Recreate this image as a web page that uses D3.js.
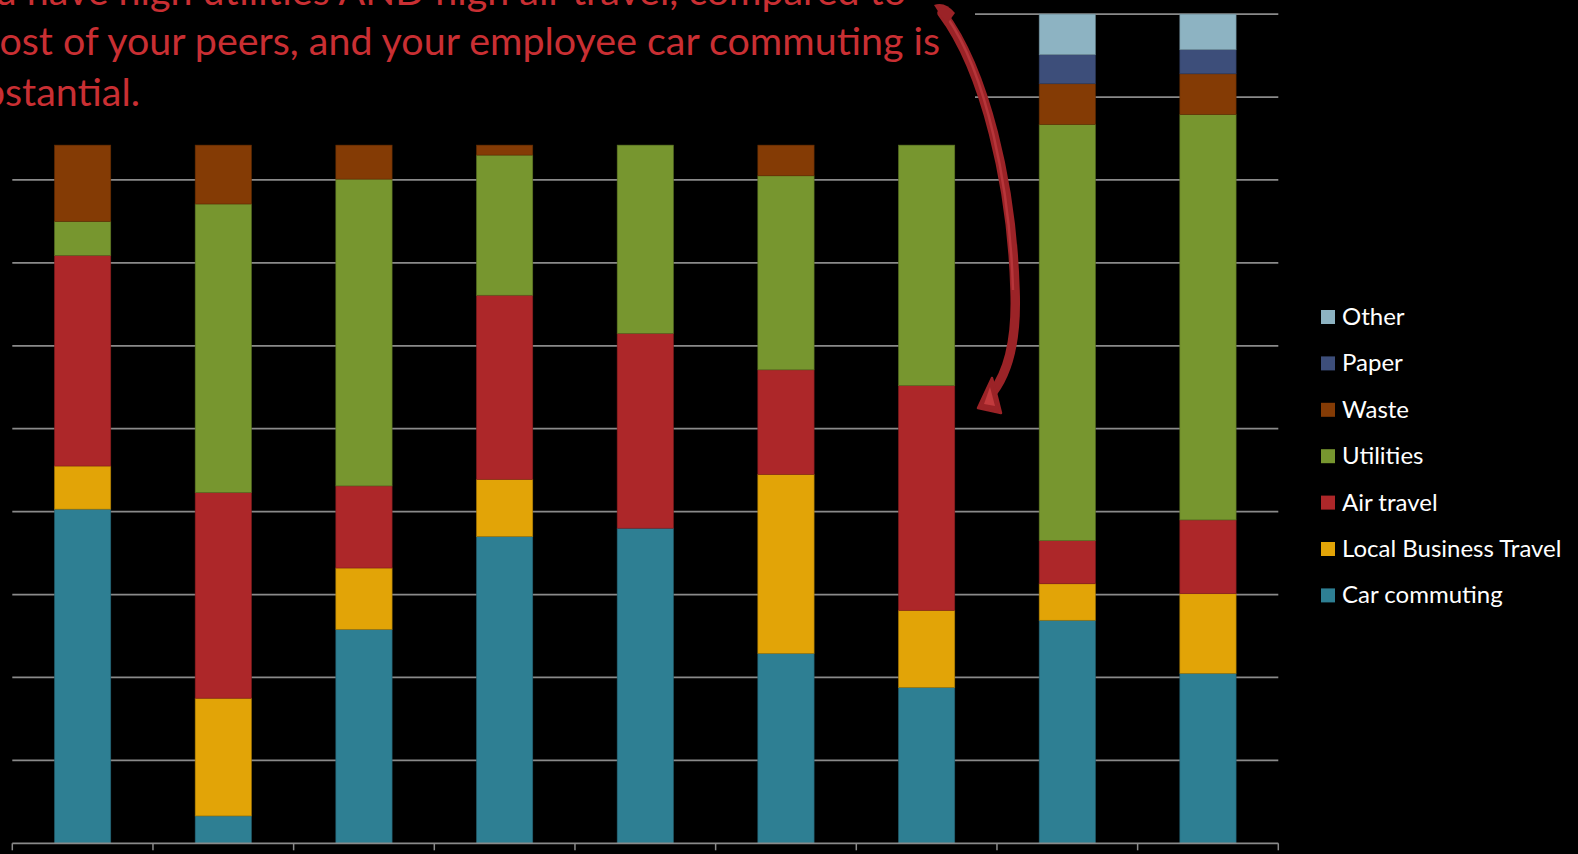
<!DOCTYPE html>
<html>
<head>
<meta charset="utf-8">
<script src="https://cdn.jsdelivr.net/npm/d3@7/dist/d3.min.js"></script>
<style>
  html, body { margin: 0; padding: 0; background: #000; overflow: hidden; }
  svg { display: block; }
</style>
</head>
<body>
<svg id="chart" width="1578" height="854"></svg>
<script>
// ---------------- DATA ----------------
const categories = ["Peer 1", "Peer 2", "Peer 3", "Peer 4", "Peer 5", "Peer 6", "Peer 7", "You (A)", "You (B)"];
const seriesNames = ["Car commuting", "Local Business Travel", "Air travel", "Utilities", "Waste", "Paper", "Other"];
const carCommuting        = [40.3,  3.3, 25.8, 37.0, 38.0, 22.9, 18.8, 26.9, 20.5];
const localBusinessTravel = [ 5.2, 14.2,  7.4,  6.9,  0.0, 21.6,  9.3,  4.4,  9.6];
const airTravel           = [25.4, 24.8,  9.9, 22.2, 23.5, 12.6, 27.1,  5.2,  8.9];
const utilities           = [ 4.1, 34.8, 37.0, 16.9, 22.7, 23.4, 29.0, 50.2, 48.9];
const waste               = [ 9.2,  7.1,  4.1,  1.2,  0.0,  3.7,  0.0,  4.9,  4.9];
const paper               = [ 0.0,  0.0,  0.0,  0.0,  0.0,  0.0,  0.0,  3.5,  2.9];
const other               = [ 0.0,  0.0,  0.0,  0.0,  0.0,  0.0,  0.0,  4.9,  4.3];
const yTickValues = [0, 10, 20, 30, 40, 50, 60, 70, 80, 90, 100];
const titleLines = [
  "You have high utilities AND high air travel, compared to",
  "most of your peers, and your employee car commuting is",
  "substantial."
];
const seriesColors = ["#2e7f93", "#e2a407", "#ad2729", "#77962f", "#843b05", "#3d4e7a", "#8db3c2"];

// ---------------- SETUP ----------------
const svg = d3.select("#chart");
const FONT = "Lato, 'Open Sans', 'DejaVu Sans', sans-serif";

const plotLeft = 12.3, plotRight = 1278.3, plotTop = 14.1, plotBottom = 843.3;

const x = d3.scaleBand().domain(categories).range([plotLeft, plotRight])
  .paddingInner(0.6).paddingOuter(0.3);
const y = d3.scaleLinear().domain([0, 100]).range([plotBottom, plotTop]);

const seriesArrays = [carCommuting, localBusinessTravel, airTravel, utilities, waste, paper, other];
const rows = categories.map((c, i) => {
  const r = { category: c };
  seriesNames.forEach((s, j) => r[s] = seriesArrays[j][i]);
  return r;
});
const stacked = d3.stack().keys(seriesNames)(rows);
const color = d3.scaleOrdinal().domain(seriesNames).range(seriesColors);

// gridlines
svg.append("g").selectAll("line")
  .data(yTickValues.filter(v => v > 0))
  .join("line")
  .attr("x1", plotLeft).attr("x2", plotRight)
  .attr("y1", d => y(d)).attr("y2", d => y(d))
  .attr("stroke", "#8a8a8a").attr("stroke-width", 1.75);

// title box (opaque) covering upper gridlines
svg.append("rect").attr("x", 0).attr("y", 0).attr("width", 975).attr("height", 140).attr("fill", "#000");

// bars
svg.append("g").selectAll("g")
  .data(stacked)
  .join("g")
  .attr("fill", d => color(d.key))
  .attr("stroke", d => d3.color(color(d.key)).darker(0.8))
  .attr("stroke-width", 0.6)
  .selectAll("rect")
  .data(d => d.filter(p => p[1] - p[0] > 0))
  .join("rect")
  .attr("x", d => x(d.data.category))
  .attr("width", x.bandwidth())
  .attr("y", d => y(d[1]))
  .attr("height", d => y(d[0]) - y(d[1]));

// x axis: line + ticks at category boundaries
const axisG = svg.append("g");
axisG.append("line")
  .attr("x1", plotLeft).attr("x2", plotRight)
  .attr("y1", y(0)).attr("y2", y(0))
  .attr("stroke", "#8a8a8a").attr("stroke-width", 1.75);
const boundaries = categories.map(c => x(c) - x.step() * x.paddingOuter());
boundaries.push(plotRight);
axisG.selectAll("line.tick")
  .data(boundaries)
  .join("line").attr("class", "tick")
  .attr("x1", d => d).attr("x2", d => d)
  .attr("y1", y(0)).attr("y2", y(0) + 7)
  .attr("stroke", "#8a8a8a").attr("stroke-width", 1.5);

// title text, sized so the visible line matches the reference width
const titleColor = "#c92f33";
const probe = svg.append("text").attr("font-family", FONT).attr("font-size", 42)
  .text("ost of your peers, and your employee car commuting is");
const probeW = probe.node().getComputedTextLength();
probe.remove();
const titleSize = 42 * 941 / probeW;
const titleEnds = [906, 940, 140];
const titleBaselines = [5, 55, 106];
svg.append("g").selectAll("text")
  .data(titleLines)
  .join("text")
  .attr("x", (d, i) => titleEnds[i])
  .attr("y", (d, i) => titleBaselines[i])
  .attr("text-anchor", "end")
  .attr("font-family", FONT)
  .attr("font-size", titleSize)
  .attr("fill", titleColor)
  .text(d => d);

// curved arrow
const arrow = svg.append("g");
arrow.append("path")
  .attr("d", "M 942 13 C 985 70, 1012 185, 1015 290 C 1017 340, 1008 372, 993 392")
  .attr("fill", "none").attr("stroke", "#9b2327").attr("stroke-width", 9.5).attr("stroke-linecap", "round");
arrow.append("path")
  .attr("d", "M 947 17 C 986 73, 1010 185, 1013 290")
  .attr("fill", "none").attr("stroke", "#b7353a").attr("stroke-width", 2.5);
arrow.append("path")
  .attr("d", "M 934 5 Q 945 1 955 13 L 947 24 Q 940 15 934 5 Z")
  .attr("fill", "#9b2327");
arrow.append("path")
  .attr("d", "M 992 378 L 978 408 L 1001 413 L 997 397 Z")
  .attr("fill", "#9b2327").attr("stroke", "#9b2327").attr("stroke-width", 2.5).attr("stroke-linejoin", "round");
arrow.append("path")
  .attr("d", "M 990 387 L 984 404 L 995 406 Z")
  .attr("fill", "#c23a3d");

// legend
const legendOrder = seriesNames.slice().reverse();
const lprobe = svg.append("text").attr("font-family", FONT).attr("font-size", 22).text("Local Business Travel");
const lw = lprobe.node().getComputedTextLength();
lprobe.remove();
const legendSize = Math.min(24, 22 * 227 / lw);
const legend = svg.append("g");
const legendBaseline0 = 325, legendSpacing = 46.4;
const li = legend.selectAll("g").data(legendOrder).join("g")
  .attr("transform", (d, i) => `translate(0, ${legendBaseline0 + i * legendSpacing})`);
li.append("rect")
  .attr("x", 1321).attr("y", -15).attr("width", 14).attr("height", 14)
  .attr("fill", d => color(d));
li.append("text")
  .attr("x", 1342).attr("y", 0)
  .attr("font-family", FONT).attr("font-size", legendSize)
  .attr("fill", "#ffffff")
  .text(d => d);
</script>
</body>
</html>
